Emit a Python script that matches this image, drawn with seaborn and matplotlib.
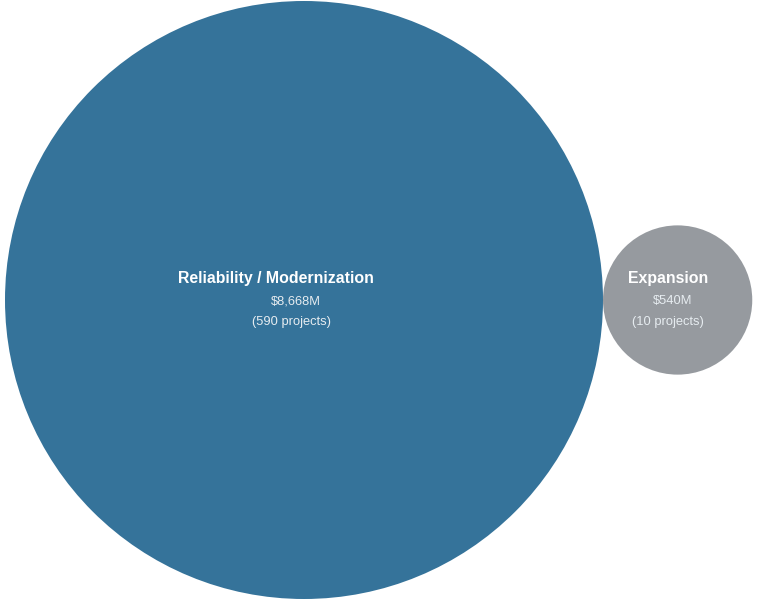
import numpy as np
import matplotlib.pyplot as plt
import seaborn as sns
from matplotlib.patches import Circle

categories = ["Reliability / Modernization", "Expansion"]
values = [8668, 540]          # $M
projects = [590, 10]
colors = ["#35739a", "#969a9f"]

# label offsets (px) from circle centre: title, value, project count
title_dx = [-28, -10]
value_dx = [-8, -5]
proj_dx = [-13, -10]


def main():
    sns.set_style("white")
    plt.rcParams['font.family'] = ['Liberation Sans', 'DejaVu Sans']

    fig = plt.figure(figsize=(7.59, 5.99), dpi=100)
    ax = fig.add_axes([0, 0, 1, 1])
    ax.set_xlim(0, 759)
    ax.set_ylim(599, 0)
    ax.set_aspect('equal')
    ax.axis('off')

    k = 299 / np.sqrt(max(values))
    radii = [k * np.sqrt(v) for v in values]
    cy = 300
    x = 5
    for i, (cat, v, n, c, r) in enumerate(zip(categories, values, projects, colors, radii)):
        cx = x + r
        x = cx + r
        ax.add_patch(Circle((cx, cy), r, facecolor=c, edgecolor='none'))
        ax.text(cx + title_dx[i], cy - 21.5, cat, ha='center', va='center',
                color='white', fontsize=11.45, fontweight='bold')
        ax.text(cx + value_dx[i], cy + 1, f"${v:,}M", ha='center', va='center',
                color='#e6ecf0', fontsize=9.3)
        ax.text(cx + proj_dx[i], cy + 22, f"({n} projects)", ha='center', va='center',
                color='#e6ecf0', fontsize=9.3)

    plt.savefig("out.png", dpi=100)
    plt.close()


if __name__ == '__main__':
    main()
